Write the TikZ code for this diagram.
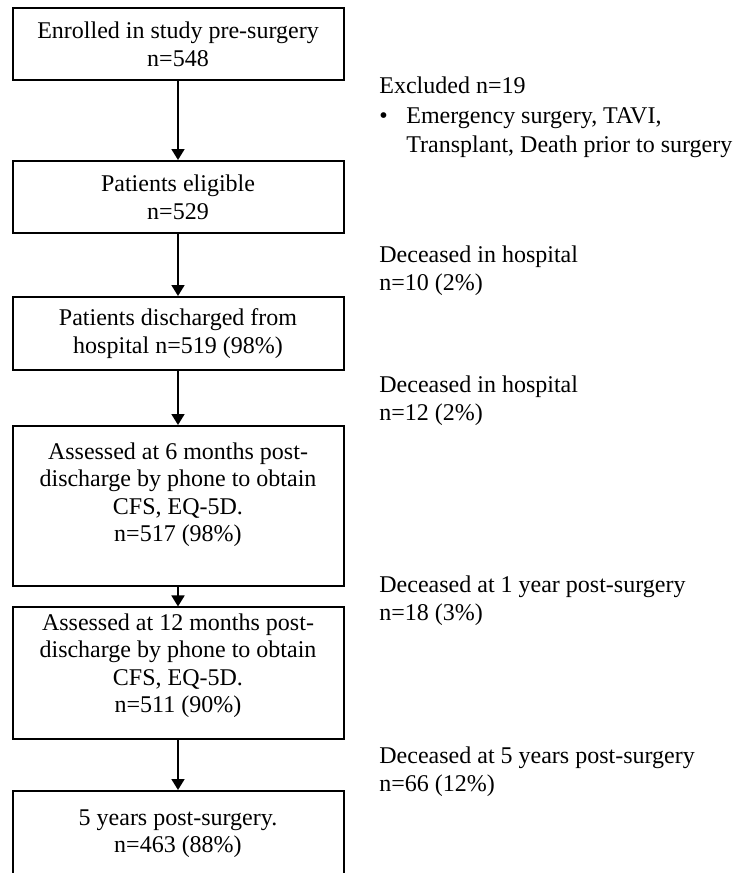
\documentclass[tikz,border=0pt]{standalone}
\usepackage{fontspec}
\setmainfont{Liberation Serif}
\usepackage{tikz}
\usetikzlibrary{arrows.meta, positioning}

\begin{document}
\begin{tikzpicture}[
  x=0.5pt, y=-0.5pt,
  flowbox/.style={draw, line width=1pt, minimum width=165.5pt, align=center, inner sep=3pt, font=\fontsize{12}{13.8}\selectfont},
  sidenote/.style={anchor=west, align=left, inner sep=0pt, font=\fontsize{12}{13.8}\selectfont},
  flowarrow/.style={-{Triangle[width=6.5pt, length=5.5pt]}, line width=0.9pt}
]
  \useasboundingbox (0,0) rectangle (737,873);
  \clip (0,0) rectangle (737,873);

  % main column
  \node[flowbox, minimum height=36pt] (enrol) at (178, 44) {Enrolled in study pre-surgery\\n=548};
  \node[flowbox, minimum height=36pt] (elig) at (178, 197) {Patients eligible\\n=529};
  \node[flowbox, minimum height=36.5pt] (disch) at (178, 333.5) {Patients discharged from\\hospital n=519 (98\%)};
  \node[flowbox, minimum height=80pt] (sixm) at (178, 506) {Assessed at 6 months post-\\discharge by phone to obtain\\CFS, EQ-5D.\\n=517 (98\%)\\\mbox{}};
  \node[flowbox, minimum height=65pt] (twelvem) at (178, 673) {Assessed at 12 months post-\\discharge by phone to obtain\\CFS, EQ-5D.\\n=511 (90\%)\\[-4pt]\mbox{}};
  \node[flowbox, minimum height=54pt] (fivey) at (178, 845) {5 years post-surgery.\\n=463 (88\%)\\\mbox{}};

  % side notes
  \node[sidenote, font=\fontsize{12}{14.7}\selectfont] (excl) at (379, 117.5) {Excluded n=19\\\makebox[13.5pt][l]{\textbullet}Emergency surgery, TAVI,\\\hspace*{13.5pt}Transplant, Death prior to surgery};
  \node[sidenote] (dead1) at (379, 271) {Deceased in hospital\\n=10 (2\%)};
  \node[sidenote] (dead2) at (379, 401) {Deceased in hospital\\n=12 (2\%)};
  \node[sidenote] (dead3) at (379, 601) {Deceased at 1 year post-surgery\\n=18 (3\%)};
  \node[sidenote] (dead4) at (379, 772) {Deceased at 5 years post-surgery\\n=66 (12\%)};

  \draw[flowarrow] (enrol) -- (elig);
  \draw[flowarrow] (elig) -- (disch);
  \draw[flowarrow] (disch) -- (sixm);
  \draw[flowarrow] (sixm) -- (twelvem);
  \draw[flowarrow] (twelvem) -- (fivey);
\end{tikzpicture}
\end{document}
